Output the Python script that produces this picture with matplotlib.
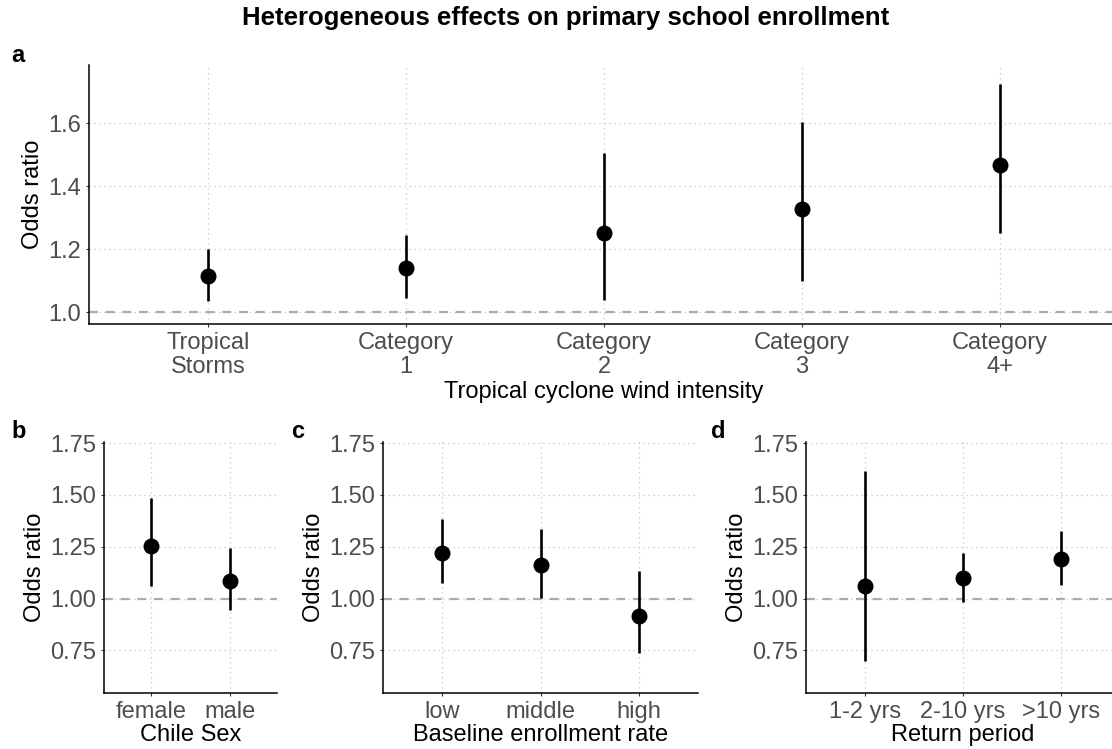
import matplotlib
matplotlib.use('Agg')
import matplotlib.pyplot as plt

plt.rcParams['font.family'] = ['Liberation Sans', 'DejaVu Sans']

# Panel a: wind intensity
intensity_labels = ['Tropical\nStorms', 'Category\n1', 'Category\n2', 'Category\n3', 'Category\n4+']
intensity_or = [1.115, 1.142, 1.251, 1.327, 1.469]
intensity_lo = [1.036, 1.046, 1.039, 1.100, 1.251]
intensity_hi = [1.201, 1.245, 1.505, 1.603, 1.726]

# Panel b: sex
sex_labels = ['female', 'male']
sex_or = [1.254, 1.084]
sex_lo = [1.061, 0.943]
sex_hi = [1.484, 1.245]

# Panel c: baseline enrollment
base_labels = ['low', 'middle', 'high']
base_or = [1.218, 1.160, 0.916]
base_lo = [1.073, 1.005, 0.740]
base_hi = [1.384, 1.335, 1.132]

# Panel d: return period
ret_labels = ['1-2 yrs', '2-10 yrs', '>10 yrs']
ret_or = [1.061, 1.097, 1.189]
ret_lo = [0.697, 0.984, 1.068]
ret_hi = [1.616, 1.222, 1.326]

W, H = 1112, 749
TXT = 17
GRAY_TXT = '#4D4D4D'


def add_axes(fig, left, right, top, bottom):
    return fig.add_axes([left / W, 1 - bottom / H, (right - left) / W, (bottom - top) / H])


def forest(ax, labels, est, lo, hi, xlabel, ylim, yticks, yfmt, xpad=1):
    x = list(range(len(labels)))
    ax.set_xlim(-0.6, len(labels) - 0.4)
    ax.set_ylim(*ylim)
    ax.set_yticks(yticks)
    ax.set_yticklabels([yfmt.format(v) for v in yticks])
    ax.set_xticks(x)
    ax.set_xticklabels(labels, linespacing=1.13)
    ax.grid(True, linestyle=(0, (1, 3)), color='#C4C4C4', linewidth=0.9)
    ax.set_axisbelow(True)
    ax.axhline(1.0, color='#ABABAB', linewidth=1.6, dashes=(4, 3.5), zorder=1)
    ax.vlines(x, lo, hi, color='black', linewidth=1.9, zorder=3)
    ax.plot(x, est, 'o', color='black', markersize=10.5, zorder=4)
    for s in ['top', 'right']:
        ax.spines[s].set_visible(False)
    for s in ['left', 'bottom']:
        ax.spines[s].set_linewidth(1.1)
    ax.tick_params(axis='both', length=2.5, width=0.8, color='#333333',
                   labelsize=TXT, labelcolor=GRAY_TXT, pad=3)
    ax.set_xlabel(xlabel, fontsize=TXT, labelpad=xpad)
    ax.set_ylabel('Odds ratio', fontsize=TXT, labelpad=3)


fig = plt.figure(figsize=(W / 100, H / 100), dpi=100)

ax_a = add_axes(fig, 89, 1119, 65, 324)
forest(ax_a, intensity_labels, intensity_or, intensity_lo, intensity_hi,
       'Tropical cyclone wind intensity', (0.963, 1.785), [1.0, 1.2, 1.4, 1.6], '{:.1f}', xpad=2)

small_ylim = (0.545, 1.755)
small_ticks = [0.75, 1.00, 1.25, 1.50, 1.75]
ax_b = add_axes(fig, 104, 277, 442, 693)
forest(ax_b, sex_labels, sex_or, sex_lo, sex_hi, 'Chile Sex', small_ylim, small_ticks, '{:.2f}')

ax_c = add_axes(fig, 383, 698, 442, 693)
forest(ax_c, base_labels, base_or, base_lo, base_hi, 'Baseline enrollment rate',
       small_ylim, small_ticks, '{:.2f}')

ax_d = add_axes(fig, 806, 1120, 442, 693)
forest(ax_d, ret_labels, ret_or, ret_lo, ret_hi, 'Return period', small_ylim, small_ticks, '{:.2f}')

fig.text(566 / W, 1 - 18 / H, 'Heterogeneous effects on primary school enrollment',
         ha='center', va='center', fontsize=18.5, fontweight='bold')

for letter, px, py in [('a', 11, 55), ('b', 11, 432), ('c', 291, 432), ('d', 711, 432)]:
    fig.text(px / W, 1 - py / H, letter, ha='left', va='center', fontsize=17, fontweight='bold')

fig.savefig('out.png', dpi=100)
